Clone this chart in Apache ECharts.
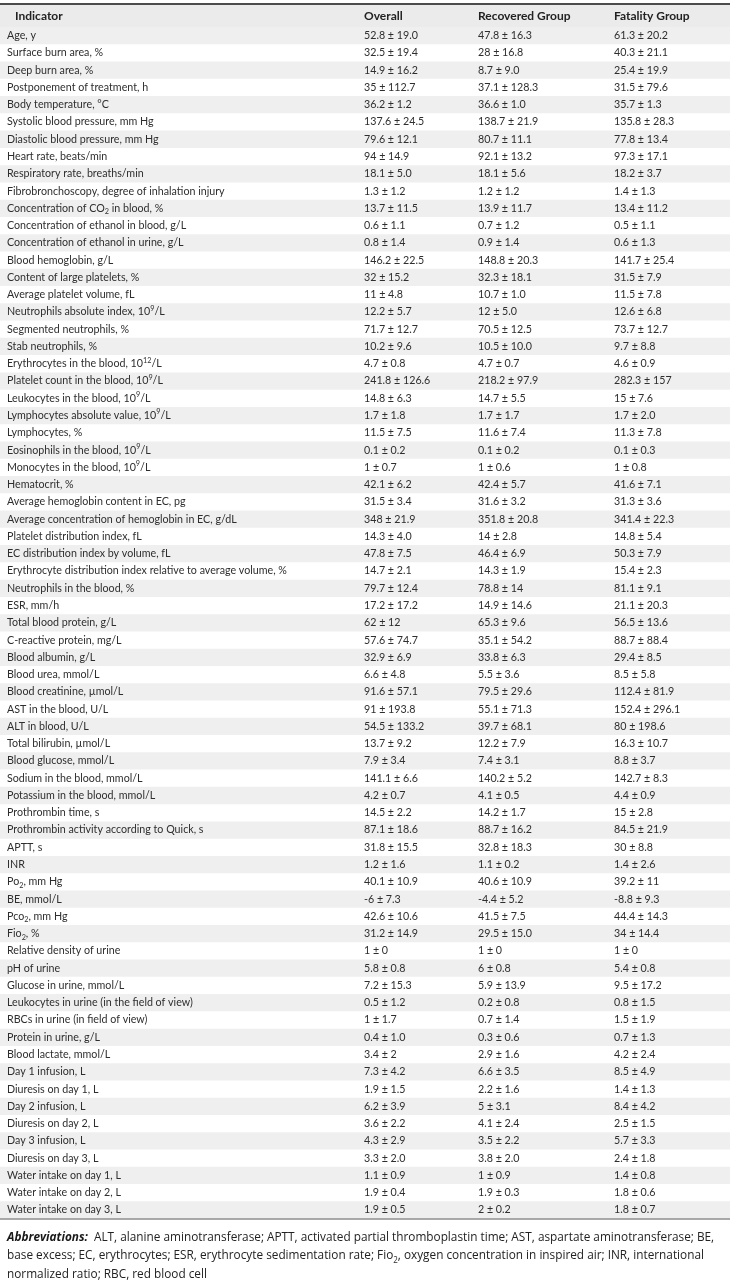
<!DOCTYPE html>
<html lang="en">
<head>
    <meta charset="UTF-8">
    <title>Indicators by group</title>
    <style>
        html, body { margin: 0; padding: 0; background: #fff; }
    </style>
</head>
<body>
    <div id="main" style="width: 733px;height:1287px;"></div>
    <script src="https://cdn.jsdelivr.net/npm/echarts@6/dist/echarts.min.js"></script>
    <script type="text/javascript">
        var HEADERS = ['Indicator', 'Overall', 'Recovered Group', 'Fatality Group'];

        // {sub|..} / {sup|..} are rich-text sub- and superscripts
        var INDICATORS = [
            'Age, y',
            'Surface burn area, %',
            'Deep burn area, %',
            'Postponement of treatment, h',
            'Body temperature, °C',
            'Systolic blood pressure, mm Hg',
            'Diastolic blood pressure, mm Hg',
            'Heart rate, beats/min',
            'Respiratory rate, breaths/min',
            'Fibrobronchoscopy, degree of inhalation injury',
            'Concentration of CO{sub|2} in blood, %',
            'Concentration of ethanol in blood, g/L',
            'Concentration of ethanol in urine, g/L',
            'Blood hemoglobin, g/L',
            'Content of large platelets, %',
            'Average platelet volume, fL',
            'Neutrophils absolute index, 10{sup|9}/L',
            'Segmented neutrophils, %',
            'Stab neutrophils, %',
            'Erythrocytes in the blood, 10{sup|12}/L',
            'Platelet count in the blood, 10{sup|9}/L',
            'Leukocytes in the blood, 10{sup|9}/L',
            'Lymphocytes absolute value, 10{sup|9}/L',
            'Lymphocytes, %',
            'Eosinophils in the blood, 10{sup|9}/L',
            'Monocytes in the blood, 10{sup|9}/L',
            'Hematocrit, %',
            'Average hemoglobin content in EC, pg',
            'Average concentration of hemoglobin in EC, g/dL',
            'Platelet distribution index, fL',
            'EC distribution index by volume, fL',
            'Erythrocyte distribution index relative to average volume, %',
            'Neutrophils in the blood, %',
            'ESR, mm/h',
            'Total blood protein, g/L',
            'C-reactive protein, mg/L',
            'Blood albumin, g/L',
            'Blood urea, mmol/L',
            'Blood creatinine, µmol/L',
            'AST in the blood, U/L',
            'ALT in blood, U/L',
            'Total bilirubin, µmol/L',
            'Blood glucose, mmol/L',
            'Sodium in the blood, mmol/L',
            'Potassium in the blood, mmol/L',
            'Prothrombin time, s',
            'Prothrombin activity according to Quick, s',
            'APTT, s',
            'INR',
            'Po{sub|2}, mm Hg',
            'BE, mmol/L',
            'Pco{sub|2}, mm Hg',
            'Fio{sub|2}, %',
            'Relative density of urine',
            'pH of urine',
            'Glucose in urine, mmol/L',
            'Leukocytes in urine (in the field of view)',
            'RBCs in urine (in field of view)',
            'Protein in urine, g/L',
            'Blood lactate, mmol/L',
            'Day 1 infusion, L',
            'Diuresis on day 1, L',
            'Day 2 infusion, L',
            'Diuresis on day 2, L',
            'Day 3 infusion, L',
            'Diuresis on day 3, L',
            'Water intake on day 1, L',
            'Water intake on day 2, L',
            'Water intake on day 3, L'
        ];

        var OVERALL = [
            '52.8 ± 19.0', '32.5 ± 19.4', '14.9 ± 16.2', '35 ± 112.7', '36.2 ± 1.2',
            '137.6 ± 24.5', '79.6 ± 12.1', '94 ± 14.9', '18.1 ± 5.0', '1.3 ± 1.2',
            '13.7 ± 11.5', '0.6 ± 1.1', '0.8 ± 1.4', '146.2 ± 22.5', '32 ± 15.2',
            '11 ± 4.8', '12.2 ± 5.7', '71.7 ± 12.7', '10.2 ± 9.6', '4.7 ± 0.8',
            '241.8 ± 126.6', '14.8 ± 6.3', '1.7 ± 1.8', '11.5 ± 7.5', '0.1 ± 0.2',
            '1 ± 0.7', '42.1 ± 6.2', '31.5 ± 3.4', '348 ± 21.9', '14.3 ± 4.0',
            '47.8 ± 7.5', '14.7 ± 2.1', '79.7 ± 12.4', '17.2 ± 17.2', '62 ± 12',
            '57.6 ± 74.7', '32.9 ± 6.9', '6.6 ± 4.8', '91.6 ± 57.1', '91 ± 193.8',
            '54.5 ± 133.2', '13.7 ± 9.2', '7.9 ± 3.4', '141.1 ± 6.6', '4.2 ± 0.7',
            '14.5 ± 2.2', '87.1 ± 18.6', '31.8 ± 15.5', '1.2 ± 1.6', '40.1 ± 10.9',
            '-6 ± 7.3', '42.6 ± 10.6', '31.2 ± 14.9', '1 ± 0', '5.8 ± 0.8',
            '7.2 ± 15.3', '0.5 ± 1.2', '1 ± 1.7', '0.4 ± 1.0', '3.4 ± 2',
            '7.3 ± 4.2', '1.9 ± 1.5', '6.2 ± 3.9', '3.6 ± 2.2', '4.3 ± 2.9',
            '3.3 ± 2.0', '1.1 ± 0.9', '1.9 ± 0.4', '1.9 ± 0.5'
        ];

        var RECOVERED = [
            '47.8 ± 16.3', '28 ± 16.8', '8.7 ± 9.0', '37.1 ± 128.3', '36.6 ± 1.0',
            '138.7 ± 21.9', '80.7 ± 11.1', '92.1 ± 13.2', '18.1 ± 5.6', '1.2 ± 1.2',
            '13.9 ± 11.7', '0.7 ± 1.2', '0.9 ± 1.4', '148.8 ± 20.3', '32.3 ± 18.1',
            '10.7 ± 1.0', '12 ± 5.0', '70.5 ± 12.5', '10.5 ± 10.0', '4.7 ± 0.7',
            '218.2 ± 97.9', '14.7 ± 5.5', '1.7 ± 1.7', '11.6 ± 7.4', '0.1 ± 0.2',
            '1 ± 0.6', '42.4 ± 5.7', '31.6 ± 3.2', '351.8 ± 20.8', '14 ± 2.8',
            '46.4 ± 6.9', '14.3 ± 1.9', '78.8 ± 14', '14.9 ± 14.6', '65.3 ± 9.6',
            '35.1 ± 54.2', '33.8 ± 6.3', '5.5 ± 3.6', '79.5 ± 29.6', '55.1 ± 71.3',
            '39.7 ± 68.1', '12.2 ± 7.9', '7.4 ± 3.1', '140.2 ± 5.2', '4.1 ± 0.5',
            '14.2 ± 1.7', '88.7 ± 16.2', '32.8 ± 18.3', '1.1 ± 0.2', '40.6 ± 10.9',
            '-4.4 ± 5.2', '41.5 ± 7.5', '29.5 ± 15.0', '1 ± 0', '6 ± 0.8',
            '5.9 ± 13.9', '0.2 ± 0.8', '0.7 ± 1.4', '0.3 ± 0.6', '2.9 ± 1.6',
            '6.6 ± 3.5', '2.2 ± 1.6', '5 ± 3.1', '4.1 ± 2.4', '3.5 ± 2.2',
            '3.8 ± 2.0', '1 ± 0.9', '1.9 ± 0.3', '2 ± 0.2'
        ];

        var FATALITY = [
            '61.3 ± 20.2', '40.3 ± 21.1', '25.4 ± 19.9', '31.5 ± 79.6', '35.7 ± 1.3',
            '135.8 ± 28.3', '77.8 ± 13.4', '97.3 ± 17.1', '18.2 ± 3.7', '1.4 ± 1.3',
            '13.4 ± 11.2', '0.5 ± 1.1', '0.6 ± 1.3', '141.7 ± 25.4', '31.5 ± 7.9',
            '11.5 ± 7.8', '12.6 ± 6.8', '73.7 ± 12.7', '9.7 ± 8.8', '4.6 ± 0.9',
            '282.3 ± 157', '15 ± 7.6', '1.7 ± 2.0', '11.3 ± 7.8', '0.1 ± 0.3',
            '1 ± 0.8', '41.6 ± 7.1', '31.3 ± 3.6', '341.4 ± 22.3', '14.8 ± 5.4',
            '50.3 ± 7.9', '15.4 ± 2.3', '81.1 ± 9.1', '21.1 ± 20.3', '56.5 ± 13.6',
            '88.7 ± 88.4', '29.4 ± 8.5', '8.5 ± 5.8', '112.4 ± 81.9', '152.4 ± 296.1',
            '80 ± 198.6', '16.3 ± 10.7', '8.8 ± 3.7', '142.7 ± 8.3', '4.4 ± 0.9',
            '15 ± 2.8', '84.5 ± 21.9', '30 ± 8.8', '1.4 ± 2.6', '39.2 ± 11',
            '-8.8 ± 9.3', '44.4 ± 14.3', '34 ± 14.4', '1 ± 0', '5.4 ± 0.8',
            '9.5 ± 17.2', '0.8 ± 1.5', '1.5 ± 1.9', '0.7 ± 1.3', '4.2 ± 2.4',
            '8.5 ± 4.9', '1.4 ± 1.3', '8.4 ± 4.2', '2.5 ± 1.5', '5.7 ± 3.3',
            '2.4 ± 1.8', '1.4 ± 0.8', '1.8 ± 0.6', '1.8 ± 0.7'
        ];

        var FOOTNOTE = [
            '{b|Abbreviations:}  ALT, alanine aminotransferase; APTT, activated partial thromboplastin time; AST, aspartate aminotransferase; BE,',
            'base excess; EC, erythrocytes; ESR, erythrocyte sedimentation rate; Fio{sub|2}, oxygen concentration in inspired air; INR, international',
            'normalized ratio; RBC, red blood cell'
        ];

        // layout
        var PAGE_W = 733;
        var TABLE_W = 730;
        var COL_X = [7, 364, 478, 614];
        var FONT = 'Lato';
        var CELL_SIZE = 10.7;
        var NOTE_SIZE = 11.8;
        var TXT = '#2e2e2e';

        function richFor(size, family) {
            return {
                sub: { fontFamily: family, fontSize: size * 0.68, lineHeight: 7, verticalAlign: 'bottom', fill: TXT },
                sup: { fontFamily: family, fontSize: size * 0.68, lineHeight: 7, verticalAlign: 'top', fill: TXT },
                b: { fontFamily: family, fontSize: size, fontWeight: 'bold', fontStyle: 'italic', fill: '#1a1a1a' }
            };
        }
        var CELL_RICH = richFor(CELL_SIZE, FONT);

        var cols = [INDICATORS, OVERALL, RECOVERED, FATALITY];

        var renderItem = function (params, api) {
            var i = api.value(1);
            var left = api.coord([0, i]);
            var right = api.coord([TABLE_W, i]);
            var h = api.size([0, 1])[1];
            var children = [];
            if (i % 2 === 0) {
                children.push({
                    type: 'rect',
                    shape: { x: left[0], y: left[1] - h / 2, width: right[0] - left[0], height: h },
                    style: { fill: '#efefef' }
                });
            }
            cols.forEach(function (col, c) {
                var q = api.coord([COL_X[c], i]);
                children.push({
                    type: 'text',
                    style: {
                        text: col[i],
                        x: q[0], y: q[1],
                        fontFamily: FONT, fontSize: CELL_SIZE,
                        fill: TXT, align: 'left', verticalAlign: 'middle',
                        lineHeight: 14,
                        rich: CELL_RICH
                    }
                });
            });
            if (i === INDICATORS.length - 1) {
                children.push({
                    type: 'line',
                    shape: { x1: left[0], y1: left[1] + h / 2 + 0.5, x2: right[0], y2: left[1] + h / 2 + 0.5 },
                    style: { stroke: '#8c8c8c', lineWidth: 1.5 }
                });
            }
            return { type: 'group', children: children };
        };

        var myChart = echarts.init(document.getElementById('main'));

        var headerGraphics = [
            { type: 'rect', shape: { x: 0, y: 5, width: TABLE_W, height: 22 }, style: { fill: '#ebebeb' }, silent: true },
            { type: 'line', shape: { x1: 0, y1: 4, x2: TABLE_W, y2: 4 }, style: { stroke: '#111', lineWidth: 1.5 }, silent: true }
        ];
        HEADERS.forEach(function (name, c) {
            headerGraphics.push({
                type: 'text',
                x: c === 0 ? COL_X[0] + 8 : COL_X[c],
                y: 16,
                style: {
                    text: name,
                    fontFamily: FONT, fontSize: 12, fontWeight: 'bold',
                    fill: '#222', align: 'left', verticalAlign: 'middle'
                },
                silent: true
            });
        });
        headerGraphics.push({
            type: 'text',
            x: 7,
            y: 1228,
            style: {
                text: FOOTNOTE.join('\n'),
                fontFamily: 'Open Sans', fontSize: NOTE_SIZE,
                fill: '#222', align: 'left', verticalAlign: 'top',
                lineHeight: 18.5,
                rich: richFor(NOTE_SIZE, 'Open Sans')
            },
            silent: true
        });

        var option = {
            animation: false,
            grid: { left: 0, right: 0, top: 27, bottom: 68.4 },
            xAxis: { type: 'value', min: 0, max: PAGE_W, show: false },
            yAxis: {
                type: 'category',
                data: INDICATORS.map(function (n, i) { return String(i); }),
                inverse: true,
                show: false
            },
            graphic: headerGraphics,
            series: [{
                type: 'custom',
                silent: true,
                clip: false,
                encode: { x: 0, y: 1 },
                data: INDICATORS.map(function (n, i) { return [0, i]; }),
                renderItem: renderItem
            }]
        };

        myChart.setOption(option);
    </script>
</body>
</html>
